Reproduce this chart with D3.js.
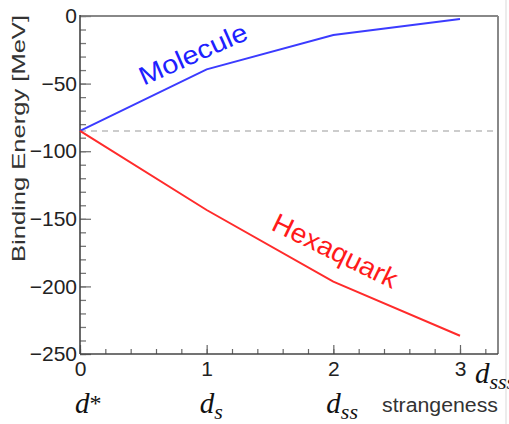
<!DOCTYPE html>
<html><head><meta charset="utf-8">
<script src="https://cdn.jsdelivr.net/npm/d3@7"></script>
<style>html,body{margin:0;padding:0;background:#fff;overflow:hidden}</style>
</head><body>
<svg id="c" width="509" height="424"></svg>
<script>
// ---- data ----
const strangeness = [0, 1, 2, 3];
const molecule = [-85, -39.5, -14, -2.3];
const hexaquark = [-85, -143.5, -196.5, -236.5];
const threshold = -85;
const yMajorTicks = [0, -50, -100, -150, -200, -250];
const xMajorTicks = [0, 1, 2, 3];
const stateLabels = [
  {base: "d", sup: "*", sub: ""},
  {base: "d", sup: "", sub: "s"},
  {base: "d", sup: "", sub: "ss"},
  {base: "d", sup: "", sub: "sss"}
];
const yTitle = "Binding Energy [MeV]";
const xTitle = "strangeness";
const seriesNames = ["Molecule", "Hexaquark"];

// ---- layout ----
const svg = d3.select("#c");
const L = 80, R = 498, T = 16, B = 354;
const x = d3.scaleLinear().domain([0, 3.3]).range([L, R]);
const y = d3.scaleLinear().domain([-250, 0]).range([B, T]);
const fmt = d => (d < 0 ? "\u2212" + Math.abs(d) : String(d));

// faint page edge
svg.append("line").attr("x1", 506).attr("x2", 506).attr("y1", 0).attr("y2", 424)
  .attr("stroke", "#ececec").attr("stroke-width", 2);

// frame top/right
svg.append("line").attr("x1", L).attr("x2", R).attr("y1", T).attr("y2", T)
  .attr("stroke", "#888").attr("stroke-width", 2);
svg.append("line").attr("x1", R).attr("x2", R).attr("y1", T).attr("y2", B)
  .attr("stroke", "#888").attr("stroke-width", 2);

// y minor
const yMinor = d3.range(-250, 1, 10);
svg.append("g").attr("transform", `translate(${L},0)`)
  .call(d3.axisLeft(y).tickValues(yMinor).tickSize(-6).tickFormat(""))
  .call(g => { g.select(".domain").remove(); g.selectAll("line").attr("stroke", "#777").attr("stroke-width", 1.3); });
// y major
svg.append("g").attr("transform", `translate(${L},0)`)
  .call(d3.axisLeft(y).tickValues(yMajorTicks).tickSize(-11).tickPadding(3).tickFormat(fmt))
  .call(g => {
    g.select(".domain").remove();
    g.selectAll("line").attr("stroke", "#777").attr("stroke-width", 1.3);
    g.selectAll("text").attr("font-family", "Liberation Sans, Arial, sans-serif")
      .attr("font-size", 21).attr("fill", "#222");
  });

// x minor
const xMinor = d3.range(0, 16.5, 1).map(i => i * 0.2);
svg.append("g").attr("transform", `translate(0,${B})`)
  .call(d3.axisBottom(x).tickValues(xMinor).tickSize(-5).tickFormat(""))
  .call(g => { g.select(".domain").remove(); g.selectAll("line").attr("stroke", "#666").attr("stroke-width", 1.2); });
// x major
svg.append("g").attr("transform", `translate(0,${B})`)
  .call(d3.axisBottom(x).tickValues(xMajorTicks).tickSize(-9).tickPadding(7).tickFormat(d3.format("d")))
  .call(g => {
    g.select(".domain").remove();
    g.selectAll("line").attr("stroke", "#666").attr("stroke-width", 1.2);
    g.selectAll("text").attr("font-family", "Liberation Sans, Arial, sans-serif")
      .attr("font-size", 21).attr("fill", "#222");
  });

// axis lines
svg.append("line").attr("x1", L).attr("x2", L).attr("y1", T - 1).attr("y2", B)
  .attr("stroke", "#444").attr("stroke-width", 1.6);
svg.append("line").attr("x1", L).attr("x2", R).attr("y1", B).attr("y2", B)
  .attr("stroke", "#444").attr("stroke-width", 1.6);

// threshold dashed
svg.append("line").attr("x1", x(0)).attr("x2", R - 2).attr("y1", y(threshold)).attr("y2", y(threshold))
  .attr("stroke", "#cccccc").attr("stroke-width", 2).attr("stroke-dasharray", "6,5");

// lines
const line = d3.line().x((d, i) => x(strangeness[i])).y(d => y(d));
svg.append("path").datum(molecule).attr("d", line).attr("fill", "none")
  .attr("stroke", "#3b3bff").attr("stroke-width", 2);
svg.append("path").datum(hexaquark).attr("d", line).attr("fill", "none")
  .attr("stroke", "#ff2b2b").attr("stroke-width", 2);

// series labels
svg.append("text").text(seriesNames[0])
  .attr("transform", "translate(193,54) rotate(-24)")
  .attr("text-anchor", "middle").attr("dominant-baseline", "central")
  .attr("font-family", "Liberation Sans, Arial, sans-serif").attr("font-size", 26)
  .attr("textLength", 116).attr("lengthAdjust", "spacingAndGlyphs")
  .attr("fill", "#2020ff");
svg.append("text").text(seriesNames[1])
  .attr("transform", "translate(335,251) rotate(26)")
  .attr("text-anchor", "middle").attr("dominant-baseline", "central")
  .attr("font-family", "Liberation Sans, Arial, sans-serif").attr("font-size", 27)
  .attr("textLength", 136).attr("lengthAdjust", "spacingAndGlyphs")
  .attr("fill", "#ff1a1a");

// y title
svg.append("text").text(yTitle)
  .attr("transform", "translate(18.5,138.5) rotate(-90)")
  .attr("text-anchor", "middle").attr("dominant-baseline", "central")
  .attr("font-family", "Liberation Sans, Arial, sans-serif").attr("font-size", 18)
  .attr("textLength", 247).attr("lengthAdjust", "spacingAndGlyphs")
  .attr("fill", "#333");

// x title
svg.append("text").text(xTitle)
  .attr("x", 382).attr("y", 412)
  .attr("font-family", "Liberation Sans, Arial, sans-serif").attr("font-size", 20)
  .attr("textLength", 116).attr("lengthAdjust", "spacingAndGlyphs")
  .attr("fill", "#333");

// state labels (d*, d_s, d_ss, d_sss)
const stateOffsets = [[-5, 413], [-7, 413], [-7, 413], [15, 383]];
stateLabels.forEach((s, i) => {
  const t = svg.append("text")
    .attr("x", x(strangeness[i]) + stateOffsets[i][0]).attr("y", stateOffsets[i][1])
    .attr("font-family", "Liberation Serif, Times New Roman, serif").attr("font-style", "italic")
    .attr("font-size", 29).attr("fill", "#111");
  t.append("tspan").text(s.base);
  if (s.sup) t.append("tspan").text(s.sup).attr("font-style", "normal").attr("font-size", 24).attr("dy", -2);
  if (s.sub) t.append("tspan").text(s.sub).attr("font-size", 22).attr("dy", 6);
});
</script>
</body></html>
